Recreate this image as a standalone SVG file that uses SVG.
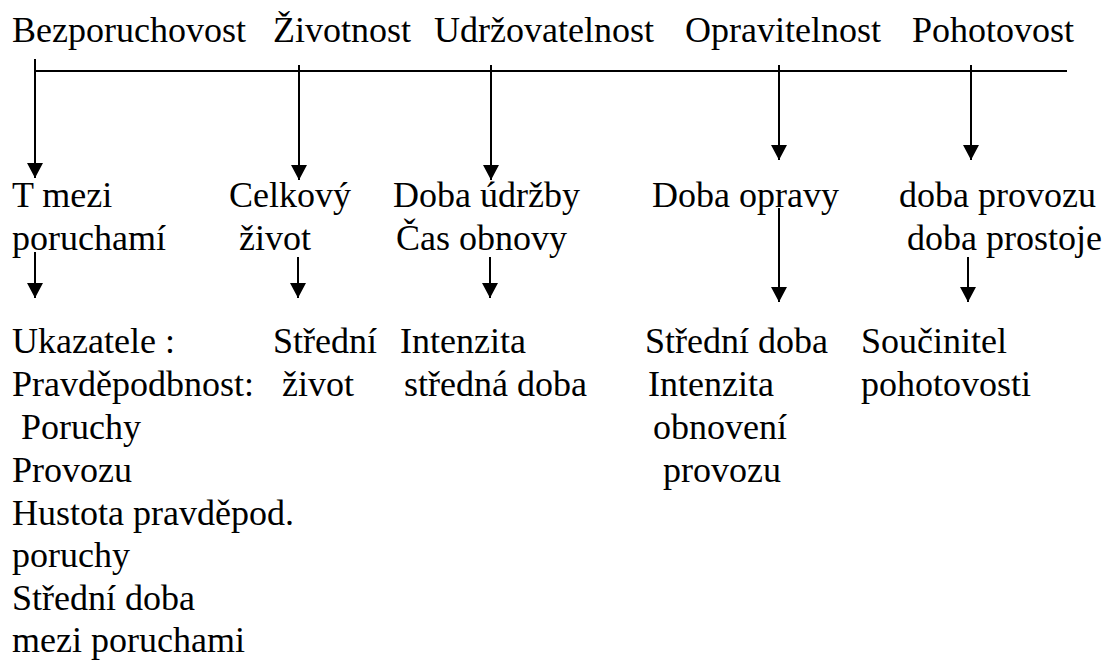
<svg xmlns="http://www.w3.org/2000/svg" width="1112" height="662" viewBox="0 0 1112 662">
<style>
text{font-family:'Liberation Serif','Times New Roman',Tinos,'DejaVu Serif',serif;font-size:36px;fill:#000}
.c{stroke:#000;stroke-width:2;fill:none}
</style>
<defs>
<marker id="ah" viewBox="0 0 15 16" refX="15" refY="8" markerWidth="15" markerHeight="16" markerUnits="userSpaceOnUse" orient="auto">
<path d="M0,0 L15,8 L0,16 z" fill="#000"/>
</marker>
</defs>
<rect width="1112" height="662" fill="#fff"/>
<g id="connectors">
<line class="c" x1="35" y1="71" x2="1067" y2="71"/>
<line class="c" x1="35" y1="59" x2="35" y2="178" marker-end="url(#ah)"/>
<line class="c" x1="299" y1="65" x2="299" y2="180" marker-end="url(#ah)"/>
<line class="c" x1="491" y1="65" x2="491" y2="180" marker-end="url(#ah)"/>
<line class="c" x1="779" y1="65" x2="779" y2="160" marker-end="url(#ah)"/>
<line class="c" x1="971" y1="65" x2="971" y2="160" marker-end="url(#ah)"/>
<line class="c" x1="35" y1="252" x2="35" y2="298" marker-end="url(#ah)"/>
<line class="c" x1="298" y1="257" x2="298" y2="298" marker-end="url(#ah)"/>
<line class="c" x1="490" y1="257" x2="490" y2="298" marker-end="url(#ah)"/>
<line class="c" x1="779" y1="208" x2="779" y2="302" marker-end="url(#ah)"/>
<line class="c" x1="968" y1="257" x2="968" y2="302" marker-end="url(#ah)"/>
</g>
<g font-family="'Liberation Serif', serif">
<g id="n-bezporuchovost"><text x="12" y="42">Bezporuchovost</text></g>
<g id="n-zivotnost"><text x="273" y="42">Životnost</text></g>
<g id="n-udrzovatelnost"><text x="434" y="42">Udržovatelnost</text></g>
<g id="n-opravitelnost"><text x="685" y="42">Opravitelnost</text></g>
<g id="n-pohotovost"><text x="912" y="42">Pohotovost</text></g>
<g id="n-tmezi"><text x="12" y="207">T mezi</text><text x="12" y="250">poruchamí</text></g>
<g id="n-celkovy"><text x="229" y="207">Celkový</text><text x="239" y="250">život</text></g>
<g id="n-dobaudrzby"><text x="393" y="207">Doba údržby</text><text x="396" y="250">Čas obnovy</text></g>
<g id="n-dobaopravy"><text x="652" y="207">Doba opravy</text></g>
<g id="n-dobaprovozu"><text x="899" y="207">doba provozu</text><text x="907" y="250">doba prostoje</text></g>
<g id="n-ukazatele">
<text x="12" y="353">Ukazatele :</text>
<text x="12" y="396">Pravděpodbnost:</text>
<text x="21" y="439">Poruchy</text>
<text x="12" y="482">Provozu</text>
<text x="12" y="525">Hustota pravděpod.</text>
<text x="12" y="567">poruchy</text>
<text x="12" y="610">Střední doba</text>
<text x="12" y="652">mezi poruchami</text>
</g>
<g id="n-stredni-zivot"><text x="273" y="353">Střední</text><text x="282" y="396">život</text></g>
<g id="n-intenzita"><text x="400" y="353">Intenzita</text><text x="404" y="396">středná doba</text></g>
<g id="n-stredni-doba"><text x="645" y="353">Střední doba</text><text x="648" y="396">Intenzita</text><text x="653" y="439">obnovení</text><text x="663" y="482">provozu</text></g>
<g id="n-soucinitel"><text x="861" y="353">Součinitel</text><text x="861" y="396">pohotovosti</text></g>
</g>
</svg>
